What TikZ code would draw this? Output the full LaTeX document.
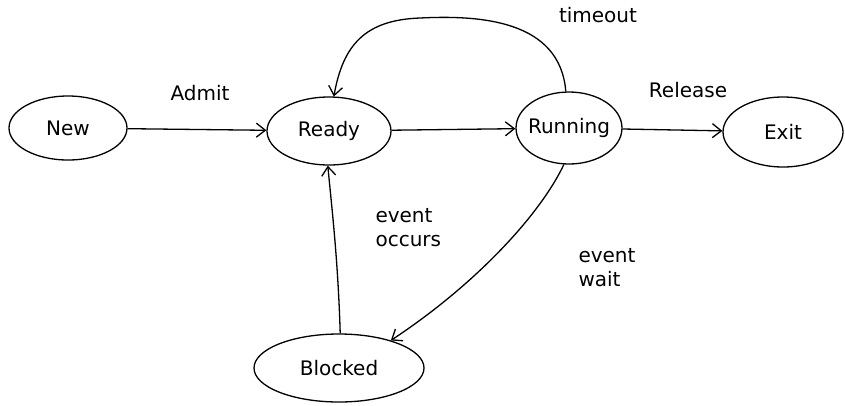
\documentclass[tikz,border=0pt]{standalone}
\usepackage{fontspec}
\setmainfont{DejaVu Sans}
\usetikzlibrary{shapes.geometric,arrows.meta}
\begin{document}
\begin{tikzpicture}[x=1pt,y=-1pt,
  state/.style={ellipse,draw,line width=1.3pt,inner sep=0pt,
    font=\fontsize{20}{24}\selectfont},
  edge/.style={line width=1.3pt,-{Straight Barb[length=9pt,width=14pt]}},
  lbl/.style={font=\fontsize{20}{24}\selectfont,align=left}]
  \useasboundingbox (0,0) rectangle (845,405);

  % states
  \node[state,minimum width=118pt,minimum height=64pt] (new) at (68,128) {New};
  \node[state,minimum width=124pt,minimum height=68pt] (ready) at (329,131) {Ready};
  \node[state,minimum width=106pt,minimum height=72pt,inner xsep=-9pt] (run) at (569,128) {Running};
  \node[state,minimum width=120pt,minimum height=70pt] (exit) at (783,132) {Exit};
  \node[state,minimum width=170pt,minimum height=68pt] (blk) at (339,368) {Blocked};

  % transitions
  \draw[edge] (new) -- (ready);
  \draw[edge] (ready) -- (run);
  \draw[edge] (run) -- (exit);
  \draw[edge] (run.95) .. controls (560,20) and (480,15) .. (420,18)
     .. controls (365,20) and (343,45) .. (ready.82);
  \draw[edge] (run.262) .. controls (540,215) and (475,285) .. (blk.28);
  \draw[edge] (blk.88) .. controls (338,260) and (332,210) .. (ready.268);

  % labels
  \node[lbl] (ladmit) at (200,93) {Admit};
  \node[lbl] (ltime) at (598,15) {timeout};
  \node[lbl] (lrel) at (688,90) {Release};
  \node[lbl,anchor=north west] (locc) at (372,205) {event\\occurs};
  \node[lbl,anchor=north west] (lwait) at (575,245) {event\\wait};
\end{tikzpicture}
\end{document}
